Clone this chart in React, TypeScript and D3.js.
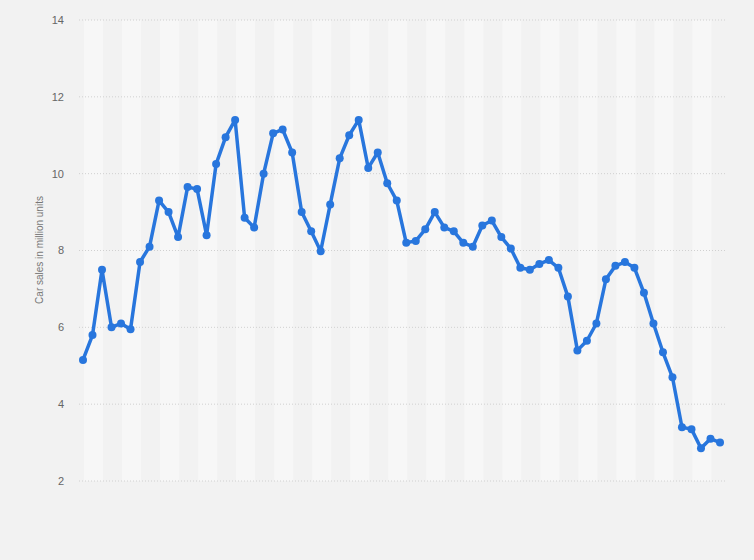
import React from "react";
import * as d3 from "d3";

const sales: number[] = [
  5.15, 5.8, 7.5, 6.0, 6.1, 5.95, 7.7, 8.1, 9.3, 9.0,
  8.35, 9.65, 9.6, 8.4, 10.25, 10.95, 11.4, 8.85, 8.6, 10.0,
  11.05, 11.15, 10.55, 9.0, 8.5, 7.98, 9.2, 10.4, 11.0, 11.4,
  10.15, 10.55, 9.75, 9.3, 8.2, 8.25, 8.55, 9.0, 8.6, 8.5,
  8.2, 8.1, 8.65, 8.78, 8.35, 8.05, 7.55, 7.5, 7.65, 7.75,
  7.55, 6.8, 5.4, 5.65, 6.1, 7.25, 7.6, 7.7, 7.55, 6.9,
  6.1, 5.35, 4.7, 3.4, 3.35, 2.85, 3.1, 3.0,
];
const yTicks: number[] = [2, 4, 6, 8, 10, 12, 14];
const yLabel = "Car sales in million units";

const W = 754;
const H = 560;
const left = 79;
const right = 725;
const top = 20;
const bottom = 481;

export default function App() {
  const x = d3.scaleLinear().domain([0, sales.length - 1]).range([83, 720]);
  const y = d3.scaleLinear().domain([2, 14]).range([bottom, top]);
  const step = x(1) - x(0);
  const line = d3
    .line<number>()
    .x((_, i) => x(i))
    .y((d) => y(d));

  const bands: { x0: number; x1: number }[] = [];
  for (let i = 0; i < sales.length - 1; i += 4) {
    const x0 = x(i) + 1;
    const x1 = Math.min(x0 + 2 * step, right);
    bands.push({ x0, x1 });
  }

  return (
    <div style={{ position: "fixed", left: 0, top: 0, width: W, height: H }}>
      <svg width={W} height={H} style={{ display: "block" }}>
        <rect x={0} y={0} width={W} height={H} fill="#f2f2f2" />
        {bands.map((b, i) => (
          <rect key={i} x={b.x0} y={top} width={b.x1 - b.x0} height={bottom - top} fill="#f7f7f7" />
        ))}
        {yTicks.map((t) => (
          <g key={t}>
            <line
              x1={left}
              x2={right}
              y1={y(t)}
              y2={y(t)}
              stroke="#d0d0d0"
              strokeWidth={1}
              strokeDasharray="1,2"
            />
            <text
              x={64}
              y={y(t)}
              dy="0.35em"
              textAnchor="end"
              fontFamily="'Liberation Sans', Arial, sans-serif"
              fontSize={11}
              fill="#666"
            >
              {t}
            </text>
          </g>
        ))}
        <text
          transform={`translate(43, 250) rotate(-90)`}
          textAnchor="middle"
          fontFamily="'Liberation Sans', Arial, sans-serif"
          fontSize={10}
          fill="#777"
        >
          {yLabel}
        </text>
        <path d={line(sales) || ""} fill="none" stroke="#2876dd" strokeWidth={3.5} strokeLinejoin="round" />
        {sales.map((v, i) => (
          <circle key={i} cx={x(i)} cy={y(v)} r={4} fill="#2876dd" />
        ))}
      </svg>
    </div>
  );
}
